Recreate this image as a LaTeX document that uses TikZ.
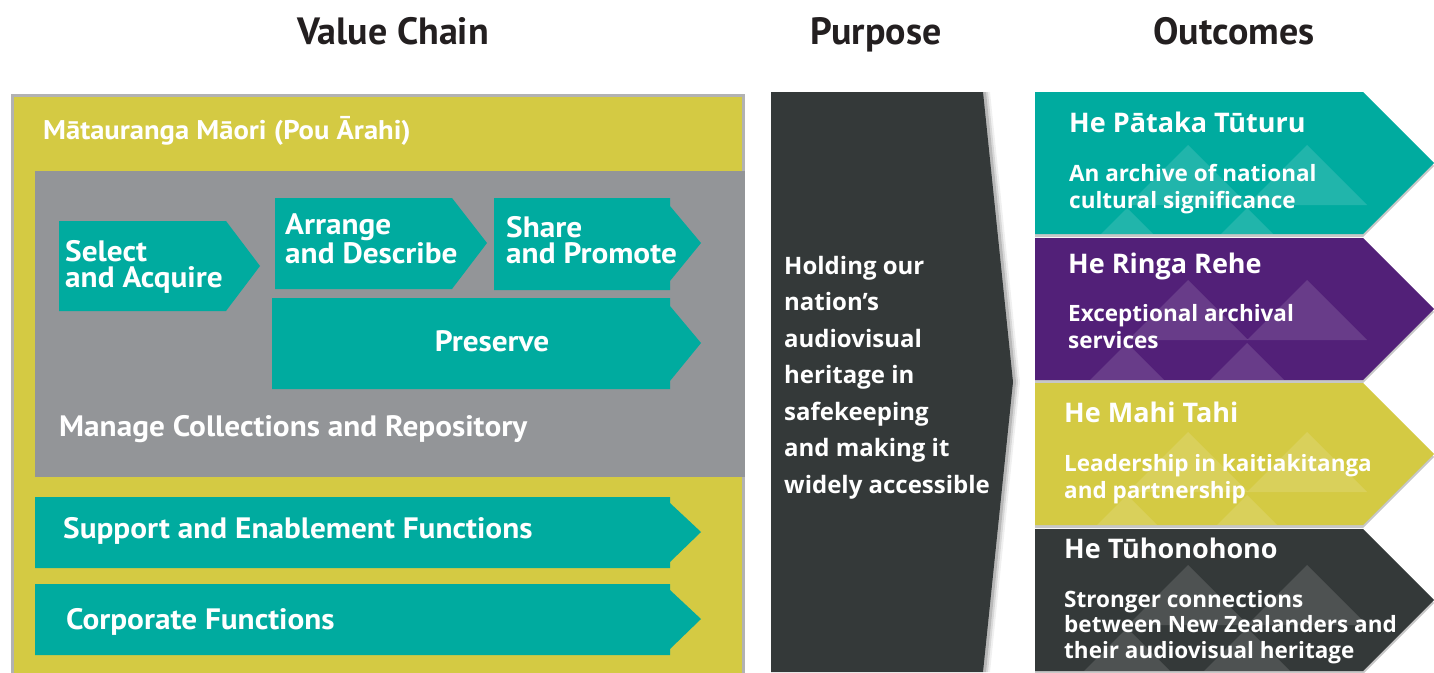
\documentclass[tikz,border=0pt]{standalone}
\usepackage{fontspec}
\setmainfont{Open Sans}
\newfontfamily\dinfont{PT Sans}[FakeStretch=1.06]
\newfontfamily\titlefont{PT Sans}
\usetikzlibrary{positioning}

\definecolor{ngteal}{RGB}{0,171,159}
\definecolor{ngolive}{RGB}{212,202,67}
\definecolor{nggrey}{RGB}{147,149,152}
\definecolor{ngdark}{RGB}{52,57,57}
\definecolor{ngpurple}{RGB}{82,32,120}
\definecolor{ngtitle}{RGB}{35,31,32}

\begin{document}
\begin{tikzpicture}[x=1pt, y=-1pt,
    title/.style={font=\titlefont\bfseries\fontsize{38}{40}\selectfont, text=ngtitle, anchor=base, inner sep=0pt},
    vclabel/.style={font=\dinfont\bfseries\fontsize{29.5}{26}\selectfont, text=white, anchor=base west, align=left, inner sep=0pt},
    head/.style={font=\bfseries\fontsize{27}{30}\selectfont, text=white, anchor=base west, inner sep=0pt},
    sub/.style={font=\bfseries\fontsize{22.5}{27}\selectfont, text=white, anchor=base west, align=left, inner sep=0pt},
    purp/.style={font=\bfseries\fontsize{24}{36.5}\selectfont, text=white, anchor=base west, align=left, inner sep=0pt},
    mtn/.style={fill=white, fill opacity=0.13}
  ]
  \useasboundingbox (0,0) rectangle (1434,672);
  \clip (0,0) rectangle (1434,672);

  % column titles
  \node[title] (vctitle) at (393,44) {Value Chain};
  \node[title] (purptitle) at (876,44) {Purpose};
  \node[title] (outtitle) at (1234,44) {Outcomes};

  % value chain frame
  \fill[ngolive, draw=black!30, line width=3] (12,95) rectangle (743,680);
  \node[vclabel, font=\dinfont\bfseries\fontsize{27}{28}\selectfont] (matauranga) at (43,139) {Mātauranga Māori (Pou Ārahi)};
  \fill[nggrey] (35,171) rectangle (745,477);

  % select and acquire (multi-line labels sit on their last baseline)
  \fill[ngteal] (59,221) -- (226,221) -- (260,266) -- (226,311) -- (59,311) -- cycle;
  \node[vclabel] (select) at (65,287) {Select\\and Acquire};

  % arrange and describe
  \fill[ngteal] (275,198) -- (452,198) -- (487,243) -- (452,289) -- (275,289) -- cycle;
  \node[vclabel] (arrange) at (285,263) {Arrange\\and Describe};

  % share and promote
  \fill[ngteal] (494,198) -- (670,198) -- (670,206) -- (701,243) -- (670,281) -- (670,290) -- (494,290) -- cycle;
  \node[vclabel] (share) at (506,263) {Share\\and Promote};

  % preserve
  \fill[ngteal] (272,298) -- (670,298) -- (670,306) -- (701,343) -- (670,381) -- (670,389) -- (272,389) -- cycle;
  \node[vclabel, anchor=base] (preserve) at (492,351) {Preserve};

  \node[vclabel] (manage) at (59,436) {Manage Collections and Repository};

  % support and corporate bars
  \fill[ngteal] (35,497) -- (670,497) -- (670,503) -- (701,532) -- (670,562) -- (670,568) -- (35,568) -- cycle;
  \node[vclabel] (support) at (63,538) {Support and Enablement Functions};
  \fill[ngteal] (35,584) -- (670,584) -- (670,590) -- (701,619) -- (670,649) -- (670,655) -- (35,655) -- cycle;
  \node[vclabel] (corporate) at (66,629) {Corporate Functions};

  % purpose column with soft edge
  \foreach \s/\o in {7/0.06, 5/0.1, 3/0.15}
    \fill[black, opacity=\o] (983,92) -- (983+\s,92) -- (1013+\s,382) -- (983+\s,672) -- (983,672) -- cycle;
  \fill[ngdark] (771,92) -- (983,92) -- (1013,382) -- (983,672) -- (771,672) -- cycle;
  \node[purp] (purpose) at (784,493) {Holding our\\nation’s\\audiovisual\\heritage in\\safekeeping\\and making it\\widely accessible};

  % outcome arrows
  \foreach \t/\col/\a in {92/ngteal/145, 238/ngpurple/280, 383/ngolive/432, 529/ngdark/565} {
    \fill[black!22] (1035,\t+3) -- (1363,\t+3) -- (1434,\t+74) -- (1363,\t+145) -- (1035,\t+145) -- cycle;
    \fill[\col] (1035,\t) -- (1363,\t) -- (1434,\t+71) -- (1363,\t+142) -- (1035,\t+142) -- cycle;
    \begin{scope}
      \clip (1035,\t) -- (1363,\t) -- (1434,\t+71) -- (1363,\t+142) -- (1035,\t+142) -- cycle;
      \fill[mtn] (1128,\a+60) -- (1188,\a) -- (1248,\a+60) -- cycle;
      \fill[mtn] (1247,\a+60) -- (1307,\a) -- (1367,\a+60) -- cycle;
      \fill[mtn] (1067,\a+123) -- (1127,\a+63) -- (1187,\a+123) -- cycle;
      \fill[mtn] (1187,\a+123) -- (1247,\a+63) -- (1307,\a+123) -- cycle;
    \end{scope}
  }

  \node[head] (pataka) at (1069,132) {He Pātaka Tūturu};
  \node[sub] (archive) at (1069,208) {An archive of national\\cultural significance};
  \node[head] (ringa) at (1068,273) {He Ringa Rehe};
  \node[sub] (services) at (1068,348) {Exceptional archival\\services};
  \node[head] (mahi) at (1064,422) {He Mahi Tahi};
  \node[sub] (leadership) at (1064,498) {Leadership in kaitiakitanga\\and partnership};
  \node[head] (tuhono) at (1064,558) {He Tūhonohono};
  \node[sub, font=\bfseries\fontsize{22.5}{25.5}\selectfont] (connections) at (1064,658) {Stronger connections\\between New Zealanders and\\their audiovisual heritage};
\end{tikzpicture}
\end{document}
